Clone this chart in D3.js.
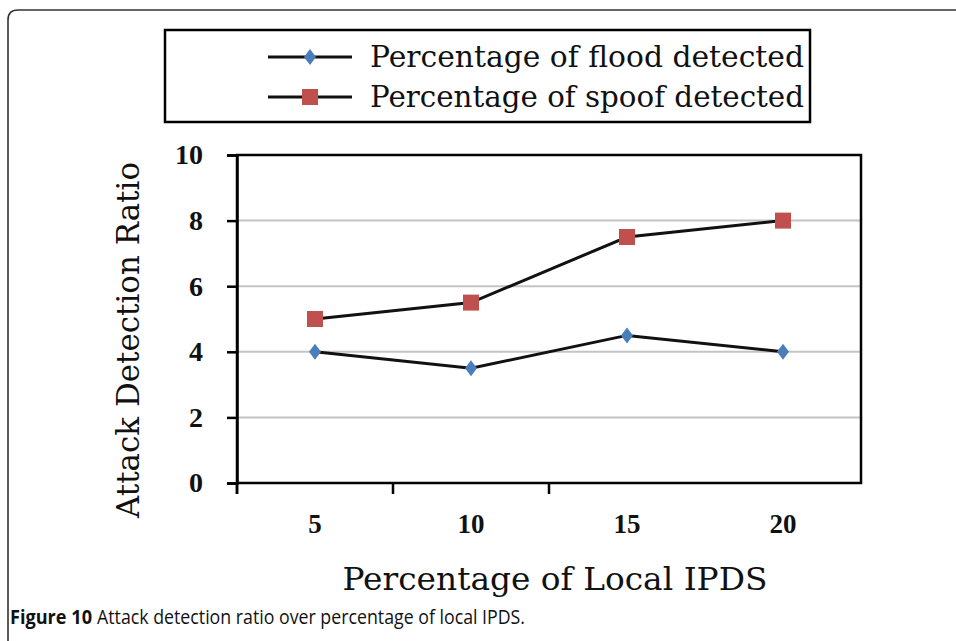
<!DOCTYPE html>
<html><head><meta charset="utf-8">
<script src="https://cdn.jsdelivr.net/npm/d3@7"></script>
<style>body{margin:0;background:#fff}svg{display:block}</style>
</head><body>
<svg id="c" width="956" height="641"></svg>
<script>
const categories = ["5", "10", "15", "20"];
const floodValues = [4, 3.5, 4.5, 4];
const spoofValues = [5, 5.5, 7.5, 8];
const yTicks = [0, 2, 4, 6, 8, 10];
const seriesNames = ["Percentage of flood detected", "Percentage of spoof detected"];
const xTitle = "Percentage of Local IPDS";
const yTitle = "Attack Detection Ratio";
const captionBold = "Figure 10";
const captionText = "Attack detection ratio over percentage of local IPDS.";

const svg = d3.select("#c");
const serif = "'DejaVu Serif', serif";
const tickFont = "'Liberation Serif', serif";

// outer frame (rounded top-left corner)
svg.append("path")
  .attr("d", "M8,660 L8,20 Q8,10 18,10 L970,10")
  .attr("fill", "none").attr("stroke", "#333").attr("stroke-width", 1.6);

const L = 237, R = 861, T = 155, B = 483;
const x = d3.scaleBand().domain(categories).range([L, R]);
const y = d3.scaleLinear().domain([0, 10]).range([B, T]);

// gridlines
svg.append("g").selectAll("line").data(yTicks.filter(v => v > 0 && v < 10)).join("line")
  .attr("x1", L).attr("x2", R).attr("y1", d => y(d)).attr("y2", d => y(d))
  .attr("stroke", "#c4c4c4").attr("stroke-width", 2);

// plot border
svg.append("rect").attr("x", L).attr("y", T).attr("width", R - L).attr("height", B - T)
  .attr("fill", "none").attr("stroke", "#000").attr("stroke-width", 2.5);

// y axis
const yAxis = svg.append("g").attr("transform", `translate(${L},0)`)
  .call(d3.axisLeft(y).tickValues(yTicks).tickSize(10).tickPadding(24).tickFormat(d3.format("d")));
yAxis.select(".domain").attr("stroke-width", 2.5);
yAxis.selectAll(".tick line").attr("stroke-width", 2.5);
yAxis.selectAll("text").attr("font-family", tickFont).attr("font-size", 28).attr("font-weight", "bold").attr("fill", "#111");

// x axis (ticks at band boundaries)
const xAxis = svg.append("g").attr("transform", `translate(0,${B})`)
  .call(d3.axisBottom(x).tickSize(0).tickPadding(31));
xAxis.select(".domain").remove();
xAxis.selectAll("text").attr("font-family", tickFont).attr("font-size", 27).attr("font-weight", "bold").attr("fill", "#111");
svg.append("g").selectAll("line").data(categories.slice(0, -1)).join("line")
  .attr("x1", d => x(d)).attr("x2", d => x(d))
  .attr("y1", B).attr("y2", B + 11).attr("stroke", "#000").attr("stroke-width", 2.5);
svg.append("line").attr("x1", L).attr("x2", L).attr("y1", B).attr("y2", B + 11)
  .attr("stroke", "#000").attr("stroke-width", 2.5);

const cx = d => x(d) + x.bandwidth() / 2;
const line = d3.line().x(d => cx(d.c)).y(d => y(d.v));
const floodData = categories.map((c, i) => ({c, v: floodValues[i]}));
const spoofData = categories.map((c, i) => ({c, v: spoofValues[i]}));

[floodData, spoofData].forEach(data => {
  svg.append("path").datum(data).attr("d", line)
    .attr("fill", "none").attr("stroke", "#111").attr("stroke-width", 3);
});

const diamondPath = "M0,-8 L6,0 L0,8 L-6,0 Z";
svg.append("g").selectAll("path").data(floodData).join("path")
  .attr("transform", d => `translate(${cx(d.c)},${y(d.v)})`)
  .attr("d", diamondPath).attr("fill", "#4a7ebb");
svg.append("g").selectAll("rect").data(spoofData).join("rect")
  .attr("x", d => cx(d.c) - 8).attr("y", d => y(d.v) - 8)
  .attr("width", 16).attr("height", 16).attr("fill", "#c0504d");

// axis titles
svg.append("text").attr("transform", "translate(139,340) rotate(-90)")
  .attr("text-anchor", "middle").attr("font-family", serif).attr("font-size", 31)
  .attr("textLength", 356).attr("lengthAdjust", "spacingAndGlyphs")
  .attr("fill", "#111").text(yTitle);
svg.append("text").attr("x", 555).attr("y", 590)
  .attr("text-anchor", "middle").attr("font-family", serif).attr("font-size", 31)
  .attr("textLength", 425).attr("lengthAdjust", "spacingAndGlyphs")
  .attr("fill", "#111").text(xTitle);

// legend
svg.append("rect").attr("x", 165).attr("y", 30).attr("width", 645).attr("height", 92)
  .attr("fill", "#fff").attr("stroke", "#000").attr("stroke-width", 2.5);
const legY = [57, 97];
legY.forEach((ly, i) => {
  svg.append("line").attr("x1", 268).attr("x2", 352).attr("y1", ly).attr("y2", ly)
    .attr("stroke", "#111").attr("stroke-width", 3);
  if (i === 0) {
    svg.append("path").attr("transform", `translate(310,${ly})`).attr("d", diamondPath).attr("fill", "#4a7ebb");
  } else {
    svg.append("rect").attr("x", 302).attr("y", ly - 8).attr("width", 16).attr("height", 16).attr("fill", "#c0504d");
  }
  svg.append("text").attr("x", 370).attr("y", ly + 10)
    .attr("font-family", serif).attr("font-size", 30)
    .attr("textLength", 434).attr("lengthAdjust", "spacingAndGlyphs")
    .attr("fill", "#111").text(seriesNames[i]);
});

// caption
svg.append("text").attr("x", 10).attr("y", 624)
  .attr("font-family", "'Open Sans', sans-serif").attr("font-size", 20).attr("font-weight", "bold")
  .attr("fill", "#111").attr("textLength", 82).attr("lengthAdjust", "spacingAndGlyphs")
  .text(captionBold);
svg.append("text").attr("x", 97).attr("y", 624)
  .attr("font-family", "'Open Sans', sans-serif").attr("font-size", 20)
  .attr("fill", "#111").attr("textLength", 428).attr("lengthAdjust", "spacingAndGlyphs")
  .text(captionText);
</script>
</body></html>
